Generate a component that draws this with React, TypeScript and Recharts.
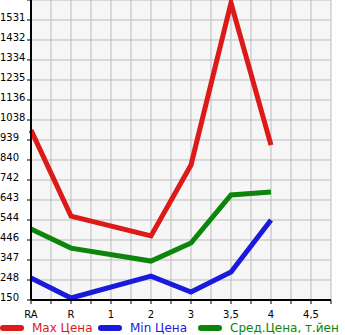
import { LineChart, Line, XAxis, YAxis, CartesianGrid } from "recharts";

const categories = ["RA", "R", "1", "2", "3", "3,5", "4", "4,5"];
const maxPrice = [988, 564, null, 466, 816, 1615, 914, null];
const minPrice = [258, 160, null, 268, 189, 288, 545, null];
const avgPrice = [500, 406, null, 342, 431, 668, 683, null];

const yTicks = [150, 248.6, 347.3, 445.9, 544.6, 643.2, 741.8, 840.5, 939.1, 1037.8, 1136.4, 1235, 1333.7, 1432.3, 1531, 1629.6];
const yLabels = ["150", "248", "347", "446", "544", "643", "742", "840", "939", "1038", "1136", "1235", "1334", "1432", "1531", ""];
const xTicks = [0, 0.5, 1, 1.5, 2, 2.5, 3, 3.5, 4, 4.5, 5, 5.5, 6, 6.5, 7, 7.5];

const data = categories.map((c, i) => ({
  x: i,
  name: c,
  max: maxPrice[i],
  min: minPrice[i],
  avg: avgPrice[i],
}));

const legendItems = [
  { label: "Max Цена", color: "#dd1a1a", left: 0 },
  { label: "Min Цена", color: "#1a1add", left: 98 },
  { label: "Сред.Цена, т.йен", color: "#0d850d", left: 198 },
];

const font = "DejaVu Sans, sans-serif";

function YTick(props: any) {
  const { y, payload } = props;
  const idx = yTicks.indexOf(payload.value);
  return (
    <text x={0} y={y} dy={1} textAnchor="start" fontSize={10} fontFamily={font} fill="#000">
      {yLabels[idx] ?? ""}
    </text>
  );
}

function XTick(props: any) {
  const { x, y, payload } = props;
  const v = payload.value;
  const label = Number.isInteger(v) ? categories[v] : "";
  return (
    <text x={x} y={y} dy={12} textAnchor="middle" fontSize={10} fontFamily={font} fill="#000">
      {label}
    </text>
  );
}

export default function App() {
  return (
    <div style={{ position: "fixed", left: 0, top: 0, width: 345, height: 335, background: "#fff", overflow: "hidden" }}>
      <LineChart width={345} height={335} data={data} margin={{ top: 0, right: 14, left: 0, bottom: 0 }}>
        <CartesianGrid stroke="#bbbbbb" fill="#f6f6f6" strokeWidth={1} />
        <XAxis
          dataKey="x"
          type="number"
          domain={[0, 7.5]}
          ticks={xTicks}
          interval={0}
          height={35}
          tick={<XTick />}
          tickSize={4}
          axisLine={{ stroke: "#000", strokeWidth: 2 }}
          tickLine={{ stroke: "#000" }}
        />
        <YAxis
          type="number"
          domain={[150, 1629.6]}
          ticks={yTicks}
          interval={0}
          width={31}
          tick={<YTick />}
          tickSize={4}
          axisLine={{ stroke: "#000", strokeWidth: 2 }}
          tickLine={{ stroke: "#000" }}
        />
        <Line dataKey="avg" stroke="#0d850d" strokeWidth={5} dot={false} connectNulls isAnimationActive={false} />
        <Line dataKey="min" stroke="#1a1add" strokeWidth={5} dot={false} connectNulls isAnimationActive={false} />
        <Line dataKey="max" stroke="#dd1a1a" strokeWidth={5} dot={false} connectNulls isAnimationActive={false} />
      </LineChart>
      {legendItems.map((it) => (
        <div
          key={it.label}
          style={{ position: "absolute", left: it.left, top: 320, height: 16, display: "flex", alignItems: "center", fontFamily: font, fontSize: 12, whiteSpace: "nowrap" }}
        >
          <span style={{ display: "inline-block", width: 24, height: 6, borderRadius: 3, background: it.color, marginRight: 8 }} />
          <span style={{ color: it.color }}>{it.label}</span>
        </div>
      ))}
    </div>
  );
}
